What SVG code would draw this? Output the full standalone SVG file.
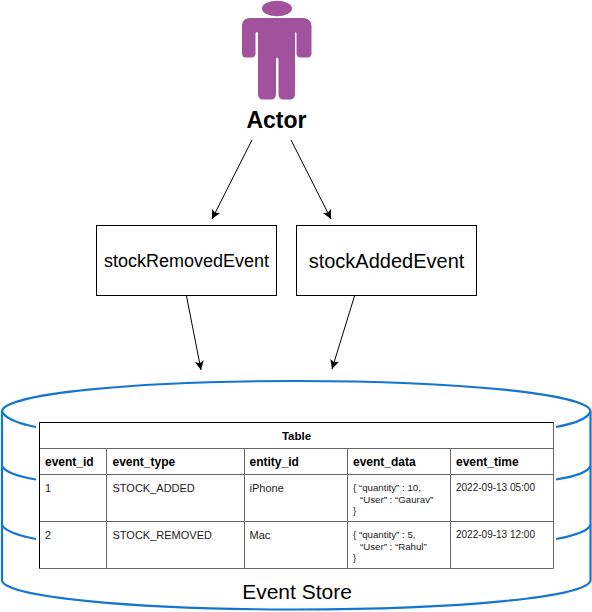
<svg xmlns="http://www.w3.org/2000/svg" width="592" height="612" viewBox="0 0 592 612">
<style>
text{font-family:"Liberation Sans",Arial,sans-serif;fill:#000}
.cyl{fill:none;stroke:#1276d2;stroke-width:2.200}
.box{fill:#fff;stroke:#000;stroke-width:1}
.conn{fill:none;stroke:#000;stroke-width:1;marker-end:url(#arrow)}
.grid{stroke:#666;stroke-width:1;fill:none}
.h{font-size:12px;font-weight:bold}
.c{font-size:11px;fill:#222}
.d{font-size:9.700px;fill:#222}
.t{font-size:10px;fill:#222}
</style>
<defs>
<marker id="arrow" markerUnits="userSpaceOnUse" markerWidth="12" markerHeight="12" refX="9" refY="4.500" orient="auto">
<path d="M0 0L9 4.500L0 9L2 4.500Z" fill="#000"/>
</marker>
</defs>
<rect width="592" height="612" fill="#fff"/>
<g id="actor">
<ellipse cx="277" cy="8.500" rx="15" ry="7.800" fill="#a2529c"/>
<path d="M250 18H303C308 18 311.500 21 311.500 26V53C311.500 56 310 57.500 307 57.500H301C298 57.500 296.500 56 296.500 53V33C296.500 32 295 32 295 33V94C295 97.500 293 99.500 290 99.500H283C280 99.500 278.500 97.500 278.500 94V60C278.500 56.500 276 56.500 276 60V94C276 97.500 274 99.500 271 99.500H263C260 99.500 258 97.500 258 94V33C258 32 255.500 32 255.500 33V53C255.500 56 254 57.500 251 57.500H246C243 57.500 242 56 242 53V26C242 21 245 18 250 18Z" fill="#a2529c"/>
<text x="276.500" y="128" font-size="23" font-weight="bold" text-anchor="middle">Actor</text>
</g>
<g id="connectors">
<path class="conn" d="M252 140L212 219"/>
<path class="conn" d="M291 140L331 219"/>
<path class="conn" d="M186.500 296L201 370"/>
<path class="conn" d="M354.500 296L332 369"/>
</g>
<g id="stockRemovedEvent">
<rect class="box" x="96.500" y="225.500" width="180" height="70"/>
<text x="186.500" y="266.500" font-size="18" text-anchor="middle">stockRemovedEvent</text>
</g>
<g id="stockAddedEvent">
<rect class="box" x="296.500" y="225.500" width="180" height="70"/>
<text x="386.500" y="268" font-size="20" text-anchor="middle">stockAddedEvent</text>
</g>
<g id="event-store">
<path class="cyl" d="M2 411.500C2 394 134 381 296 381C458 381 590.500 394 590.500 411.500V580C590.500 597 458 609.500 296 609.500C134 609.500 2 597 2 580Z"/>
<path class="cyl" d="M2 411.500C5 418 18 423.500 36 427"/>
<path class="cyl" d="M2 466C5 472 18 476.500 36 479.500"/>
<path class="cyl" d="M2 525C5 531 18 535.500 36 539"/>
<path class="cyl" d="M590.500 411.500C588 418 575 423.500 556 427"/>
<path class="cyl" d="M590.500 466C588 472 575 476.500 556 479.500"/>
<path class="cyl" d="M590.500 525C588 531 575 535.500 556 539"/>
<text x="297" y="599" font-size="21" text-anchor="middle">Event Store</text>
</g>
<g id="table">
<rect x="39.500" y="422.500" width="514" height="146" fill="#fff"/>
<path class="grid" d="M39.500 448.500H553.500M39.500 474.500H553.500M39.500 521.500H553.500M39.500 568.500H553.500M553.500 422.500V568.500M106.500 448.500V568.500M244.500 448.500V568.500M347.500 448.500V568.500M450.500 448.500V568.500"/>
<path d="M39.500 568.500V422.500H553.500" fill="none" stroke="#000"/>
<text x="296.500" y="440" font-size="11.500" font-weight="bold" text-anchor="middle">Table</text>
<text class="h" x="45" y="466">event_id</text>
<text class="h" x="112.500" y="466">event_type</text>
<text class="h" x="249.500" y="466">entity_id</text>
<text class="h" x="353" y="466">event_data</text>
<text class="h" x="456" y="466">event_time</text>
<text class="c" x="45" y="492">1</text>
<text class="c" x="112.500" y="492">STOCK_ADDED</text>
<text class="c" x="249.500" y="492">iPhone</text>
<text class="d" x="353" y="491">{ “quantity” : 10,</text>
<text class="d" x="360" y="503">“User” : “Gaurav”</text>
<text class="d" x="353" y="514">}</text>
<text class="t" x="456" y="491">2022-09-13 05:00</text>
<text class="c" x="45" y="539">2</text>
<text class="c" x="112.500" y="539">STOCK_REMOVED</text>
<text class="c" x="249.500" y="539">Mac</text>
<text class="d" x="353" y="538">{ “quantity” : 5,</text>
<text class="d" x="360" y="550">“User” : “Rahul”</text>
<text class="d" x="353" y="561">}</text>
<text class="t" x="456" y="538">2022-09-13 12:00</text>
</g>
</svg>
